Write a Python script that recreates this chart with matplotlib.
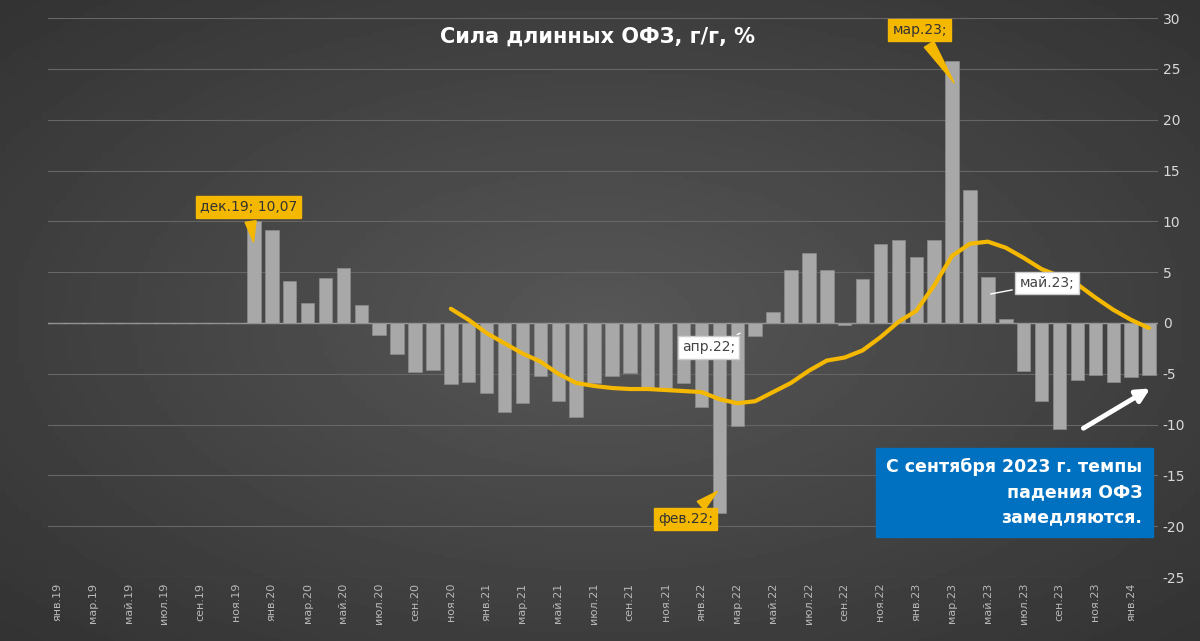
import numpy as np
import matplotlib
matplotlib.use("Agg")
import matplotlib.pyplot as plt

plt.rcParams["axes.unicode_minus"] = False

months = ["янв", "фев", "мар", "апр", "май", "июн", "июл", "авг", "сен", "окт", "ноя", "дек"]
labels = [f"{m}.{y}" for y in range(19, 25) for m in months][:62]

values = [0] * 11 + [
    10.07, 9.1, 4.1, 2.0, 4.4, 5.4, 1.8,
    -1.2, -3.1, -4.8, -4.6, -6.05, -5.8,
    -6.9, -8.8, -7.9, -5.2, -7.7, -9.3, -5.9, -5.2, -4.9, -6.4, -6.4, -5.9,
    -8.3, -18.7, -10.1, -1.25, 1.05, 5.2, 6.9, 5.2, -0.2, 4.3, 7.8, 8.2,
    6.5, 8.2, 25.8, 13.1, 4.5, 0.4, -4.7, -7.7, -10.4, -5.6, -5.1, -5.8,
    -5.3, -5.1,
]
trend_start = 22  # ноя.20
trend = [
    1.4, 0.3, -1.0, -2.0, -3.0, -3.8, -5.0, -5.9, -6.2, -6.4, -6.5, -6.5, -6.6, -6.7,
    -6.8, -7.5, -7.9, -7.7, -6.8, -5.9, -4.7, -3.7, -3.4, -2.7, -1.4, 0.1,
    1.2, 3.7, 6.6, 7.8, 8.0, 7.4, 6.4, 5.3, 4.6, 3.8, 2.5, 1.3, 0.3, -0.5,
]

x = np.arange(len(values))
fig = plt.figure(figsize=(12, 6.41), dpi=100)

# gradient background: lighter centre, dark edges
bg = fig.add_axes([0, 0, 1, 1], zorder=-10)
gx, gy = np.meshgrid(np.linspace(0, 1, 200), np.linspace(0, 1, 200))
grad = 0.34 - 0.2 * np.sqrt((gx - 0.5) ** 2 + (gy - 0.5) ** 2)
bg.imshow(grad, cmap="gray", vmin=0, vmax=1, extent=[0, 1, 0, 1], aspect="auto")
bg.axis("off")

ax = fig.add_axes([0.04, 0.0998, 0.925, 0.872])
ax.set_facecolor("none")
ax.set_xlim(-0.5, 61.5)
ax.set_ylim(-25, 30)
ax.set_yticks(range(-25, 31, 5))
ax.yaxis.tick_right()
ax.tick_params(axis="y", length=0, colors="#d8d8d8", labelsize=10)
ax.grid(axis="y", color="#666666", lw=0.8)
ax.set_axisbelow(True)
for s in ax.spines.values():
    s.set_visible(False)
ax.axhline(0, color="#9a9a9a", lw=1, zorder=1)

ax.bar(x, values, width=0.75, color="#a8a8a8", edgecolor="#8c8c8c", lw=0.5, zorder=2)
ax.plot(x[trend_start:trend_start + len(trend)], trend, color="#f5b800", lw=3,
        solid_capstyle="round", solid_joinstyle="round", zorder=3)

ax.set_xticks(x[::2])
ax.set_xticklabels(labels[::2], rotation=90, fontsize=8, color="#b8b8b8")
ax.tick_params(axis="x", length=0, pad=4)

ax.text(0.495, 0.985, "Сила длинных ОФЗ, г/г, %", transform=ax.transAxes, ha="center",
        va="top", color="white", fontsize=15, fontweight="bold")

def callout(text, tip, box):
    ax.annotate(text, xy=tip, xytext=box, ha="center", va="center", fontsize=10,
                color="#333333",
                bbox=dict(boxstyle="square,pad=0.3", fc="#f5b800", ec="#f5b800"),
                arrowprops=dict(arrowstyle="wedge,tail_width=0.8", fc="#f5b800", ec="#f5b800"),
                zorder=5)

callout("дек.19; 10,07", (11, 7.7), (10.7, 11.4))
callout("мар.23;", (50.2, 23.4), (48.2, 28.8))
callout("фев.22;", (37, -16.4), (35.1, -19.3))
ax.annotate("апр.22;", xy=(38.3, -0.9), xytext=(36.4, -2.4), ha="center", va="center",
            fontsize=10, color="#444", bbox=dict(boxstyle="square,pad=0.3", fc="white", ec="#ccc"),
            arrowprops=dict(arrowstyle="-", color="white", lw=1), zorder=5)
ax.annotate("май.23;", xy=(52, 2.8), xytext=(55.3, 3.9), ha="center", va="center",
            fontsize=10, color="#444", bbox=dict(boxstyle="square,pad=0.3", fc="white", ec="#ccc"),
            arrowprops=dict(arrowstyle="-", color="white", lw=1), zorder=5)

ax.annotate("", xy=(61.2, -6.3), xytext=(57.2, -10.5),
            arrowprops=dict(arrowstyle="-|>,head_width=0.4,head_length=0.8", color="white", lw=3.5),
            zorder=5)
fig.text(0.952, 0.232, "С сентября 2023 г. темпы\nпадения ОФЗ\nзамедляются.", ha="right",
         va="center", color="white", fontsize=12.5, fontweight="bold", linespacing=1.5,
         bbox=dict(boxstyle="square,pad=0.6", fc="#0070c0", ec="#0070c0"))

fig.savefig("out.png", dpi=100)
